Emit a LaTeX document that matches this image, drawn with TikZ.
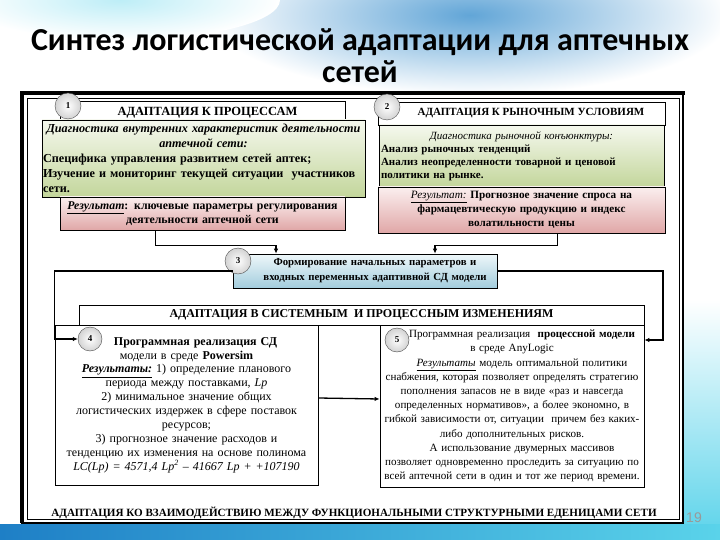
\documentclass[tikz,border=0pt]{standalone}
\usepackage{fontspec}
\setmainfont{Liberation Serif}
\newfontfamily\titlefont{Carlito}
\newfontfamily\pagefont{Liberation Sans}
\usepackage{tikz}
\usetikzlibrary{arrows.meta, positioning}
\definecolor{greentop}{HTML}{F5F8EE}
\definecolor{greenbot}{HTML}{C3D69B}
\definecolor{pinktop}{HTML}{FBEFEF}
\definecolor{pinkbot}{HTML}{E0A7A7}
\definecolor{bluetop}{HTML}{EEF7FA}
\definecolor{bluebot}{HTML}{A3CDDD}
\definecolor{slideblue}{HTML}{1E7FC6}
\definecolor{slidecyan}{HTML}{5AD3EA}

% one left-aligned row inside a centred box
\newcommand{\flushrow}[2]{\makebox[#1][l]{#2}}

\tikzset{
  hdrbox/.style={draw, fill=white, line width=0.7pt, inner sep=0pt,
    font=\fontsize{11}{13}\selectfont\bfseries},
  greenbox/.style={draw, line width=0.7pt, top color=greentop, bottom color=greenbot, inner sep=1pt},
  pinkbox/.style={draw, line width=0.7pt, top color=pinktop, bottom color=pinkbot, inner sep=2pt},
  bluebox/.style={draw, line width=0.7pt, top color=bluetop, bottom color=bluebot, inner sep=2pt},
  whitebox/.style={draw, line width=0.8pt, fill=white, inner sep=2pt},
  numcirc/.style={circle, draw=gray!60!black, inner color=white, outer color=gray!35,
    minimum size=26pt, inner sep=0pt, font=\fontsize{9}{9}\selectfont\bfseries},
  conn/.style={line width=1.3pt, -{Latex[length=5pt,width=4.5pt]}},
}

\begin{document}
\begin{tikzpicture}[x=1pt, y=-1pt]
    \useasboundingbox (0,0) rectangle (720,540);
    % slide background
    \fill[white] (0,0) rectangle (720,540);
    \shade[inner color=slideblue!70, outer color=white] (470,15) ellipse (260 and 80);
    \shade[inner color=slidecyan!40, outer color=white] (120,0) ellipse (160 and 40);
    \shade[top color=white, bottom color=slidecyan] (684,300) rectangle (720,540);
    \shade[left color=slideblue, right color=slidecyan] (0,524) rectangle (720,540);
    % title
    \node[font=\titlefont\fontsize{32}{32}\selectfont\bfseries, align=center] (title) at (360,56)
        {Синтез логистической адаптации для аптечных\\ сетей};
    % frame
    \draw[line width=2pt, fill=white] (22,93) rectangle (683,523);
    \draw[line width=4pt] (685,93) -- (22,93) -- (22,523);
    \draw[line width=0.6pt] (27,98) rectangle (679,519);

    % block 1
    \node[hdrbox, minimum width=285pt, minimum height=24pt, font=\fontsize{12.5}{13}\selectfont\bfseries] (h1) at (202.5,113)
        {\hspace*{10pt}АДАПТАЦИЯ К ПРОЦЕССАМ};
    \node[greenbox, text width=321pt, minimum height=77pt, align=center,
          font=\fontsize{12.2}{15}\selectfont\bfseries] (g1) at (203.5,158.5)
        {\textit{Диагностика внутренних характеристик деятельности}\\
         \textit{аптечной сети:}\\
         \flushrow{321pt}{Специфика управления развитием сетей аптек;}\\
         \flushrow{321pt}{Изучение и мониторинг текущей ситуации\ \ участников}\\
         \flushrow{321pt}{сети.}};
    \node[pinkbox, text width=281pt, minimum height=33pt, align=center,
          font=\fontsize{11.8}{14}\selectfont\bfseries] (p1) at (202.5,213.5)
        {\underline{\textit{Результат}}: ключевые параметры регулирования\\ деятельности аптечной сети};
    \node[numcirc] (c1) at (68,106) {1};

    % block 2
    \node[hdrbox, minimum width=287pt, minimum height=23pt] (h2) at (521.5,113.5)
        {\hspace*{19pt}АДАПТАЦИЯ К РЫНОЧНЫМ УСЛОВИЯМ};
    \node[greenbox, text width=283pt, minimum height=62pt, align=center,
          font=\fontsize{11}{13}\selectfont] (g2) at (521.5,156)
        {\textit{Диагностика рыночной конъюнктуры:}\\
         \flushrow{281pt}{\bfseries Анализ рыночных тенденций}\\
         \flushrow{281pt}{\bfseries Анализ неопределенности товарной и ценовой}\\
         \flushrow{281pt}{\bfseries политики на рынке.}};
    \node[pinkbox, text width=283pt, minimum height=46pt, align=center,
          font=\fontsize{11.2}{14}\selectfont] (p2) at (521.5,210)
        {\underline{\textit{Результат:}} \textbf{Прогнозное значение спроса на}\\
         \textbf{фармацевтическую продукцию и индекс}\\ \textbf{волатильности цены}};
    \node[numcirc] (c2) at (387,107) {2};

    % block 3
    \node[bluebox, text width=260pt, minimum height=34pt, align=center,
          font=\fontsize{10.8}{15}\selectfont\bfseries] (b3) at (365,271)
        {\hspace*{20pt}Формирование начальных параметров и\\ \hspace*{20pt}входных переменных адаптивной СД модели};
    \node[numcirc] (c3) at (238,261) {3};

    % system changes
    \node[hdrbox, minimum width=565pt, minimum height=20pt, font=\fontsize{12}{13}\selectfont\bfseries] (h3) at (361.5,315)
        {АДАПТАЦИЯ В СИСТЕМНЫМ\ \ И ПРОЦЕССНЫМ ИЗМЕНЕНИЯМ};
    \node[whitebox, text width=259pt, minimum height=160pt, align=center,
          font=\fontsize{12}{13.9}\selectfont] (b4) at (186.5,405)
        {\hspace*{18pt}\textbf{Программная реализация СД}\\
         модели в среде \textbf{Powersim}\\
         \underline{\textbf{\textit{Результаты:}}} 1) определение планового\\
         периода между поставками, \textit{Lp}\\
         2) минимальное значение общих\\
         логистических издержек в сфере поставок\\
         ресурсов;\\
         3) прогнозное значение расходов и\\
         тенденцию их изменения на основе полинома\\
         \textit{LC(Lp) = 4571,4 Lp\textsuperscript{2} – 41667 Lp + +107190}};
    \node[whitebox, text width=260pt, minimum height=162pt, align=center,
          font=\fontsize{11.1}{14.2}\selectfont] (b5) at (512,406)
        {\hspace*{20pt}Программная реализация\ \ \textbf{процессной модели}\\
         в среде AnyLogic\\
         \hspace*{20pt}\underline{\textit{Результаты}} модель оптимальной политики\\
         снабжения, которая позволяет определять стратегию\\
         пополнения запасов не в виде «раз и навсегда\\
         определенных нормативов», а более экономно, в\\
         гибкой зависимости от, ситуации\ \ причем без каких-\\
         либо дополнительных рисков.\\
         \hspace*{20pt}А использование двумерных массивов\\
         позволяет одновременно проследить за ситуацию по\\
         всей аптечной сети в один и тот же период времени.};
    \node[numcirc, minimum size=24pt] (c4) at (90,339) {4};
    \node[numcirc, minimum size=24pt] (c5) at (397,340) {5};

    % bottom label and page number
    \node[font=\fontsize{11.1}{12}\selectfont\bfseries] (bottom) at (354,513)
        {АДАПТАЦИЯ КО ВЗАИМОДЕЙСТВИЮ МЕЖДУ ФУНКЦИОНАЛЬНЫМИ СТРУКТУРНЫМИ ЕДЕНИЦАМИ СЕТИ};
    \node[font=\pagefont\fontsize{14}{14}\selectfont, text=gray!80] (pgno) at (694,518) {19};

    % connectors
    \coordinate (rturn) at (663,271);
    \draw[conn] ([xshift=-47]p1.south) -- ++(0,15) -| ([xshift=-89]b3.north);
    \draw[conn] ([xshift=36]p2.south) -- ++(0,12) -| ([xshift=70]b3.north);
    \draw[conn] (b3.west) -| (b4.north west) |- (c4.west);
    \draw[conn] (b3.east) -- (rturn) |- (b5.east |- c5.center);
    \draw[conn] ([yshift=7]b4.east) -- ([yshift=7]b5.west);
\end{tikzpicture}
\end{document}
